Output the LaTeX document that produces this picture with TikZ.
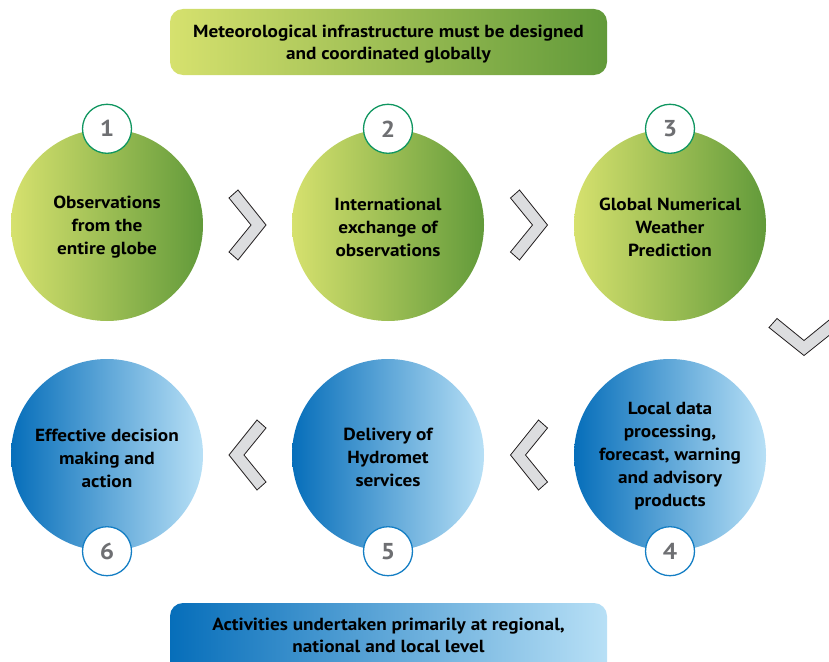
\documentclass[tikz,border=0pt]{standalone}
\usepackage{fontspec}
\setmainfont{PT Sans}[FakeStretch=1.1]
\usetikzlibrary{calc}
\definecolor{gLeft}{RGB}{214,225,110}
\definecolor{gRight}{RGB}{98,154,58}
\definecolor{bLeft}{RGB}{6,110,186}
\definecolor{bRight}{RGB}{184,224,246}
\definecolor{badgeG}{RGB}{16,150,96}
\definecolor{badgeB}{RGB}{20,126,196}
\definecolor{numgray}{RGB}{110,111,114}
\definecolor{chevfill}{RGB}{220,221,223}
\definecolor{chevline}{RGB}{35,31,32}
\tikzset{
  txt/.style={font=\bfseries\fontsize{17.5}{22.5}\selectfont, align=center, text=black},
  ctxt/.style={font=\bfseries\fontsize{17.5}{23}\selectfont, align=center, text=black},
  gcircle/.style={circle, minimum size=192pt, inner sep=0pt, left color=gLeft, right color=gRight},
  bcircle/.style={circle, minimum size=192pt, inner sep=0pt, left color=bLeft, right color=bRight},
  badge/.style={circle, minimum size=49pt, inner sep=0pt, fill=white, line width=1.3pt,
    font=\bfseries\fontsize{23}{24}\selectfont, text=numgray},
  gbadge/.style={badge, draw=badgeG},
  bbadge/.style={badge, draw=badgeB},
  gbanner/.style={rounded corners=13pt, left color=gLeft, right color=gRight},
  bbanner/.style={rounded corners=13pt, left color=bLeft, right color=bRight},
  chevstyle/.style={fill=chevfill, draw=chevline, line width=0.8pt, line join=miter},
  pics/chevron/.style={code={
    \path[chevstyle] (-18.5,-27) -- (-9.5,-35) -- (18.5,0) -- (-9.5,35) -- (-18.5,27) -- (3.5,0) -- cycle;
  }}
}
\begin{document}
\begin{tikzpicture}[x=1pt,y=-1pt]
\useasboundingbox (0,0) rectangle (829,661);
\clip (0,0) rectangle (829,661);

% banners
\path[gbanner] (170,9) rectangle (607,75);
\node[txt] (top) at (388.5,44) {Meteorological infrastructure must be designed\\and coordinated globally};
\path[bbanner] (170,603) rectangle (607,690);
\node[txt] (bottom) at (388.5,635.5) {Activities undertaken primarily at regional,\\national and local level};

% circles
\node[gcircle] (c1) at (107,225) {};
\node[gcircle] (c2) at (388,225) {};
\node[gcircle] (c3) at (670,225) {};
\node[bcircle] (c4) at (670,455) {};
\node[bcircle] (c5) at (388,455) {};
\node[bcircle] (c6) at (107,455) {};
\node[ctxt] (t1) at ($(c1.center)+(0,2)$) {Observations\\from the\\entire globe};
\node[ctxt] (t2) at ($(c2.center)+(0,2)$) {International\\exchange of\\observations};
\node[ctxt] (t3) at ($(c3.center)+(0,2)$) {Global Numerical\\Weather\\Prediction};
\node[ctxt] (t4) at ($(c4.center)+(0,1)$) {Local data\\processing,\\forecast, warning\\and advisory\\products};
\node[ctxt] (t5) at ($(c5.center)+(0,2)$) {Delivery of\\Hydromet\\services};
\node[ctxt] (t6) at ($(c6.center)+(0,3)$) {Effective decision\\making and\\action};

% badges
\node[gbadge] (n1) at (c1.north) {1};
\node[gbadge] (n2) at (c2.north) {2};
\node[gbadge] (n3) at (c3.north) {3};
\node[bbadge] (n4) at (c4.south) {4};
\node[bbadge] (n5) at (c5.south) {5};
\node[bbadge] (n6) at (c6.south) {6};

% chevrons
\coordinate (k12) at ($(c1.east)!0.5!(c2.west)$);
\coordinate (k23) at ($(c2.east)!0.5!(c3.west)$);
\coordinate (k34) at ($(c3)!0.5!(c4) + (134,-3)$);
\coordinate (k45) at ($(c5.east)!0.5!(c4.west)$);
\coordinate (k56) at ($(c6.east)!0.5!(c5.west)$);
\pic at (k12) {chevron};
\pic at (k23) {chevron};
\pic[rotate=-90] at (k34) {chevron};
\pic[rotate=180] at (k45) {chevron};
\pic[rotate=180] at (k56) {chevron};
\end{tikzpicture}
\end{document}
